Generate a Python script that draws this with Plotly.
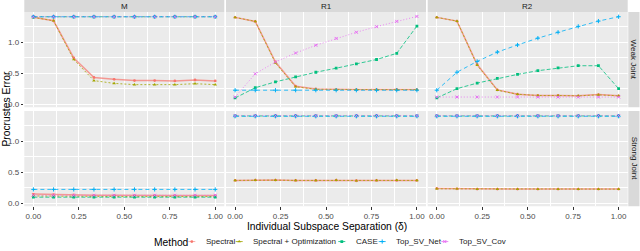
import plotly.graph_objects as go

# ---------------- data ----------------
delta = [0.000, 0.111, 0.222, 0.333, 0.444, 0.556, 0.667, 0.778, 0.889, 1.000]
methods = ["Spectral", "Spectral + Optimization", "CASE", "Top_SV_Net", "Top_SV_Cov"]
cols_lbl = ["M", "R1", "R2"]
rows_lbl = ["Weak Joint", "Strong Joint"]
x_tick_vals = [0, 0.25, 0.5, 0.75, 1.0]
x_tick_text = ["0.00", "0.25", "0.50", "0.75", "1.00"]
y_tick_vals = [0, 0.5, 1.0]
y_tick_text = ["0.0", "0.5", "1.0"]

# Weak Joint, M
weak_m_spectral = [1.40, 1.345, 0.745, 0.43, 0.40, 0.38, 0.38, 0.375, 0.39, 0.375]
weak_m_specopt = [1.40, 1.345, 0.72, 0.38, 0.335, 0.315, 0.315, 0.315, 0.33, 0.315]
weak_m_case = [1.41, 1.41, 1.41, 1.41, 1.41, 1.41, 1.41, 1.41, 1.41, 1.41]
weak_m_net = [1.41, 1.41, 1.41, 1.41, 1.41, 1.41, 1.41, 1.41, 1.41, 1.41]
weak_m_cov = [1.41, 1.41, 1.41, 1.41, 1.41, 1.41, 1.41, 1.41, 1.41, 1.41]
# Weak Joint, R1
weak_r1_spectral = [1.40, 1.335, 0.68, 0.29, 0.245, 0.235, 0.235, 0.235, 0.24, 0.235]
weak_r1_specopt = [1.40, 1.335, 0.665, 0.28, 0.24, 0.235, 0.235, 0.235, 0.235, 0.235]
weak_r1_case = [0.10, 0.265, 0.36, 0.44, 0.515, 0.58, 0.65, 0.72, 0.82, 1.26]
weak_r1_net = [0.225, 0.225, 0.225, 0.225, 0.225, 0.225, 0.225, 0.225, 0.225, 0.225]
weak_r1_cov = [0.115, 0.49, 0.68, 0.825, 0.95, 1.06, 1.16, 1.25, 1.335, 1.415]
# Weak Joint, R2
weak_r2_spectral = [1.40, 1.34, 0.64, 0.23, 0.16, 0.14, 0.14, 0.135, 0.155, 0.135]
weak_r2_specopt = [1.40, 1.34, 0.63, 0.225, 0.16, 0.14, 0.14, 0.135, 0.15, 0.135]
weak_r2_case = [0.10, 0.25, 0.34, 0.415, 0.48, 0.54, 0.585, 0.62, 0.62, 0.25]
weak_r2_net = [0.225, 0.515, 0.69, 0.84, 0.955, 1.065, 1.16, 1.255, 1.34, 1.41]
weak_r2_cov = [0.115, 0.115, 0.115, 0.115, 0.115, 0.115, 0.115, 0.115, 0.115, 0.115]
# Strong Joint, M
strong_m_spectral = [0.15, 0.14, 0.135, 0.13, 0.13, 0.125, 0.125, 0.125, 0.125, 0.125]
strong_m_specopt = [0.12, 0.115, 0.11, 0.11, 0.11, 0.11, 0.11, 0.11, 0.11, 0.11]
strong_m_case = [0.10, 0.10, 0.10, 0.10, 0.10, 0.10, 0.10, 0.10, 0.10, 0.10]
strong_m_net = [0.225, 0.225, 0.225, 0.225, 0.225, 0.225, 0.225, 0.225, 0.225, 0.225]
strong_m_cov = [0.13, 0.13, 0.13, 0.13, 0.13, 0.13, 0.13, 0.13, 0.13, 0.13]
# Strong Joint, R1
strong_r1_spectral = [0.37, 0.375, 0.375, 0.37, 0.37, 0.375, 0.365, 0.37, 0.37, 0.37]
strong_r1_specopt = [0.37, 0.375, 0.375, 0.37, 0.37, 0.375, 0.365, 0.37, 0.375, 0.37]
strong_r1_case = [1.41, 1.41, 1.41, 1.41, 1.41, 1.41, 1.41, 1.41, 1.41, 1.41]
strong_r1_net = [1.405, 1.405, 1.405, 1.405, 1.405, 1.405, 1.405, 1.405, 1.405, 1.405]
strong_r1_cov = [1.415, 1.415, 1.415, 1.415, 1.415, 1.415, 1.415, 1.415, 1.415, 1.415]
# Strong Joint, R2
strong_r2_spectral = [0.24, 0.235, 0.23, 0.23, 0.23, 0.23, 0.23, 0.23, 0.23, 0.23]
strong_r2_specopt = [0.235, 0.235, 0.23, 0.23, 0.23, 0.23, 0.23, 0.23, 0.23, 0.23]
strong_r2_case = [1.41, 1.41, 1.41, 1.41, 1.41, 1.41, 1.41, 1.41, 1.41, 1.41]
strong_r2_net = [1.405, 1.405, 1.405, 1.405, 1.405, 1.405, 1.405, 1.405, 1.405, 1.405]
strong_r2_cov = [1.415, 1.415, 1.415, 1.415, 1.415, 1.415, 1.415, 1.415, 1.415, 1.415]

panels = [
    [[weak_m_spectral, weak_m_specopt, weak_m_case, weak_m_net, weak_m_cov],
     [weak_r1_spectral, weak_r1_specopt, weak_r1_case, weak_r1_net, weak_r1_cov],
     [weak_r2_spectral, weak_r2_specopt, weak_r2_case, weak_r2_net, weak_r2_cov]],
    [[strong_m_spectral, strong_m_specopt, strong_m_case, strong_m_net, strong_m_cov],
     [strong_r1_spectral, strong_r1_specopt, strong_r1_case, strong_r1_net, strong_r1_cov],
     [strong_r2_spectral, strong_r2_specopt, strong_r2_case, strong_r2_net, strong_r2_cov]],
]

# ---------------- styles / layout ----------------
W, H = 640, 251
FONT = "Liberation Sans, Arial, sans-serif"
colors = ["#F8766D", "#A3A500", "#00BF7D", "#00B0F6", "#E76BF3"]
dashes = ["solid", "2px,2px", "4px,2px", "4px,3px", "1px,2px"]
widths = [1.5, 0.8, 0.8, 0.8, 0.8]
line_alpha = [0.7, 1, 1, 1, 1]
symbols = ["circle", "triangle-up", "square", "cross-thin", "x-thin"]
msizes = [2.8, 3.2, 2.8, 3.0, 3.0]
mlines = [0, 0, 0, 1.0, 1.0]

col_px = [(24.3, 224.3), (226.0, 426.0), (427.7, 627.7)]
row_px = [(12.0, 108.0), (112.0, 208.0)]
strip_top = (0.0, 12.0)
strip_right = (628.3, 639.5)
legend_band = (234.0, 251.0)
x_range = [-0.05, 1.05]
y_range = [-0.048, 1.488]


def px2x(p):
    return p / W


def px2y(p):
    return 1 - p / H


def marker_style(k):
    return dict(color=colors[k], size=msizes[k], symbol=symbols[k],
                line=dict(color=colors[k], width=mlines[k]))


fig = go.Figure()
layout = dict(
    width=W, height=H,
    margin=dict(l=0, r=0, t=0, b=0),
    paper_bgcolor="white", plot_bgcolor="rgba(0,0,0,0)",
    showlegend=False,
    font=dict(family=FONT, color="#1A1A1A"),
)

shapes = []
annotations = []

for r in range(2):
    for c in range(3):
        i = r * 3 + c + 1
        xa = "x" if i == 1 else f"x{i}"
        ya = "y" if i == 1 else f"y{i}"
        layout["xaxis" if i == 1 else f"xaxis{i}"] = dict(
            domain=[px2x(col_px[c][0]), px2x(col_px[c][1])],
            range=x_range, anchor=ya,
            tickvals=x_tick_vals, ticktext=x_tick_text,
            showticklabels=(r == 1),
            ticks="outside" if r == 1 else "", ticklen=2.5, tickcolor="#333333", tickwidth=0.8,
            tickfont=dict(size=8, color="#4D4D4D", family=FONT),
            showgrid=True, gridcolor="white", gridwidth=1,
            minor=dict(tickvals=[0.125, 0.375, 0.625, 0.875], showgrid=True,
                       gridcolor="white", gridwidth=0.5, ticks=""),
            zeroline=False, showline=False, fixedrange=True,
        )
        layout["yaxis" if i == 1 else f"yaxis{i}"] = dict(
            domain=[px2y(row_px[r][1]), px2y(row_px[r][0])],
            range=y_range, anchor=xa,
            tickvals=y_tick_vals, ticktext=y_tick_text,
            showticklabels=(c == 0),
            ticks="outside" if c == 0 else "", ticklen=2.5, tickcolor="#333333", tickwidth=0.8,
            tickfont=dict(size=8, color="#4D4D4D", family=FONT),
            showgrid=True, gridcolor="white", gridwidth=1,
            minor=dict(tickvals=[0.25, 0.75, 1.25], showgrid=True,
                       gridcolor="white", gridwidth=0.5, ticks=""),
            zeroline=False, showline=False, fixedrange=True,
        )
        # panel background (below grid lines)
        shapes.append(dict(type="rect", xref="paper", yref="paper",
                           x0=px2x(col_px[c][0]), x1=px2x(col_px[c][1]),
                           y0=px2y(row_px[r][1]), y1=px2y(row_px[r][0]),
                           fillcolor="#EBEBEB", line=dict(width=0), layer="below"))
        series = panels[r][c]
        for k in range(5):
            fig.add_trace(go.Scatter(
                x=delta, y=series[k], mode="lines", xaxis=xa, yaxis=ya,
                line=dict(color=colors[k], width=widths[k], dash=dashes[k]),
                opacity=line_alpha[k], name=methods[k], hoverinfo="skip"))
        for k in range(5):
            fig.add_trace(go.Scatter(
                x=delta, y=series[k], mode="markers", xaxis=xa, yaxis=ya,
                marker=marker_style(k), name=methods[k], hoverinfo="skip"))

# top strips
for c in range(3):
    shapes.append(dict(type="rect", xref="paper", yref="paper",
                       x0=px2x(col_px[c][0]), x1=px2x(col_px[c][1]),
                       y0=px2y(strip_top[1]), y1=px2y(strip_top[0]),
                       fillcolor="#D9D9D9", line=dict(width=0), layer="below"))
    annotations.append(dict(text=cols_lbl[c], xref="paper", yref="paper",
                            x=px2x((col_px[c][0] + col_px[c][1]) / 2),
                            y=px2y((strip_top[0] + strip_top[1]) / 2 + 0.3),
                            showarrow=False, font=dict(size=8, color="#1A1A1A", family=FONT),
                            xanchor="center", yanchor="middle"))
# right strips
for r in range(2):
    shapes.append(dict(type="rect", xref="paper", yref="paper",
                       x0=px2x(strip_right[0]), x1=px2x(strip_right[1]),
                       y0=px2y(row_px[r][1]), y1=px2y(row_px[r][0]),
                       fillcolor="#D9D9D9", line=dict(width=0), layer="below"))
    annotations.append(dict(text=rows_lbl[r], xref="paper", yref="paper",
                            x=px2x((strip_right[0] + strip_right[1]) / 2),
                            y=px2y((row_px[r][0] + row_px[r][1]) / 2),
                            textangle=90, showarrow=False,
                            font=dict(size=8, color="#1A1A1A", family=FONT),
                            xanchor="center", yanchor="middle"))

# axis titles
annotations.append(dict(text="Procrustes Error", xref="paper", yref="paper",
                        x=px2x(6.5), y=px2y(110), textangle=-90, showarrow=False,
                        font=dict(size=10.3, color="black", family=FONT),
                        xanchor="center", yanchor="middle"))
annotations.append(dict(text="Individual Subspace Separation (δ)", xref="paper", yref="paper",
                        x=px2x(326.5), y=px2y(228.0), showarrow=False,
                        font=dict(size=10.3, color="black", family=FONT),
                        xanchor="center", yanchor="middle", borderpad=0))

# manual legend (drawn on a hidden overlay axis limited to the legend band)
legend_y = 244.0
legend_title_x = 152.0
legend_key_x = [191.8, 239.2, 341.8, 382.2, 444.8]
annotations.append(dict(text="Method", xref="paper", yref="paper",
                        x=px2x(legend_title_x), y=px2y(legend_y + 0.5), showarrow=False,
                        font=dict(size=10.3, color="black", family=FONT),
                        xanchor="left", yanchor="middle"))
layout["xaxis7"] = dict(domain=[0, 1], range=[0, W], visible=False, fixedrange=True, anchor="y7")
layout["yaxis7"] = dict(domain=[px2y(legend_band[1]), px2y(legend_band[0])],
                        range=[legend_band[1], legend_band[0]], visible=False,
                        fixedrange=True, anchor="x7")
for k in range(5):
    kx = legend_key_x[k]
    fig.add_trace(go.Scatter(
        x=[kx - 3.5, kx + 3.5], y=[legend_y - 0.5, legend_y - 0.5], mode="lines",
        xaxis="x7", yaxis="y7", line=dict(color=colors[k], width=0.8),
        opacity=line_alpha[k], hoverinfo="skip"))
    fig.add_trace(go.Scatter(
        x=[kx], y=[legend_y - 0.5], mode="markers", xaxis="x7", yaxis="y7",
        marker=marker_style(k), hoverinfo="skip"))
    annotations.append(dict(text=methods[k], xref="paper", yref="paper",
                            x=px2x(kx + 12), y=px2y(legend_y - 0.5), showarrow=False,
                            font=dict(size=8, color="#1A1A1A", family=FONT),
                            xanchor="left", yanchor="middle"))

layout["shapes"] = shapes
layout["annotations"] = annotations
fig.update_layout(**layout)
fig.write_html("out.html", config={"displayModeBar": False},
               post_script="document.body.style.margin='0px';document.body.style.overflow='hidden';")
